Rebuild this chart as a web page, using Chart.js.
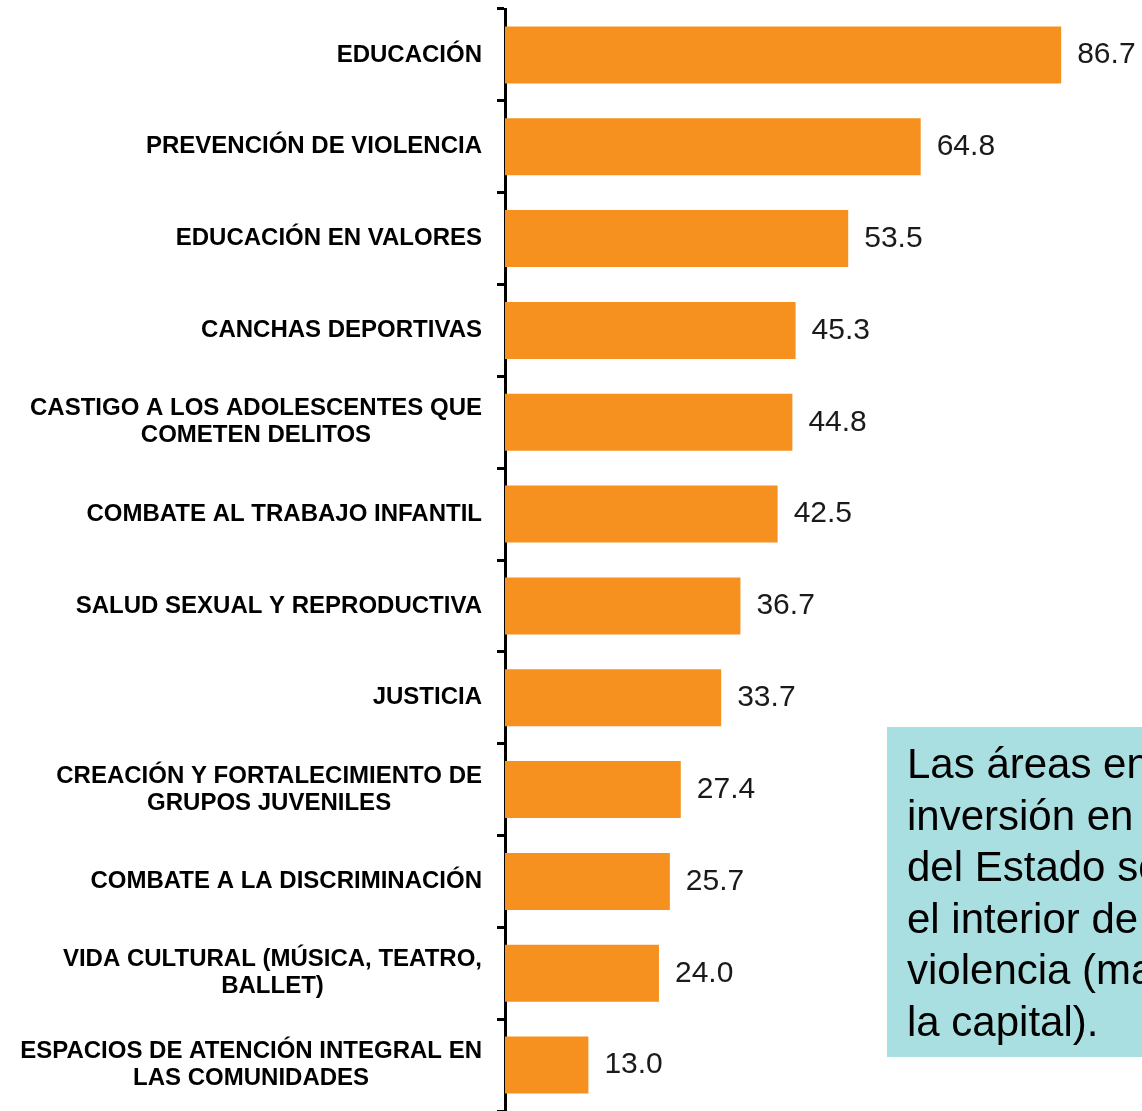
<!DOCTYPE html>
<html>
<head>
<meta charset="utf-8">
<script src="https://cdn.jsdelivr.net/npm/chart.js@4/dist/chart.umd.min.js"></script>
<style>
    html, body { margin: 0; padding: 0; background: #fff; overflow: hidden; }
    #wrap { position: absolute; left: 0; top: 0; width: 1142px; height: 1111px; }
    #note {
        position: absolute; left: 887px; top: 727px; width: 420px; height: 319px;
        background: #aadfe1; padding: 11px 0 0 20px;
        font-family: "Liberation Sans", Arial, sans-serif; font-size: 42px; line-height: 51.5px;
        color: #000; white-space: nowrap;
    }
</style>
</head>
<body>
<div id="wrap"><canvas id="barChart"></canvas></div>
<div id="note">Las áreas en las que se recomienda mayor<br>inversión en adolescencia por parte<br>del Estado son la educación en<br>el interior de las zonas de<br>violencia (mayormente en<br>la capital).</div>
<script>
    // Categories (each entry = lines of the label)
    var categories = [
        ["EDUCACIÓN"],
        ["PREVENCIÓN DE VIOLENCIA"],
        ["EDUCACIÓN EN VALORES"],
        ["CANCHAS DEPORTIVAS"],
        ["CASTIGO A LOS ADOLESCENTES QUE", "COMETEN DELITOS"],
        ["COMBATE AL TRABAJO INFANTIL"],
        ["SALUD SEXUAL Y REPRODUCTIVA"],
        ["JUSTICIA"],
        ["CREACIÓN Y FORTALECIMIENTO DE", "GRUPOS JUVENILES"],
        ["COMBATE A LA DISCRIMINACIÓN"],
        ["VIDA CULTURAL (MÚSICA, TEATRO,", "BALLET)"],
        ["ESPACIOS DE ATENCIÓN INTEGRAL EN", "LAS COMUNIDADES"]
    ];
    var values = [86.7, 64.8, 53.5, 45.3, 44.8, 42.5, 36.7, 33.7, 27.4, 25.7, 24.0, 13.0];

    var barColor = "#f6901e";

    // Labels on the left: right-aligned block, lines centered within it
    var categoryLabels = {
        id: "categoryLabels",
        afterDraw: function (chart) {
            var ctx = chart.ctx;
            var yScale = chart.scales.y;
            var lineH = 27;
            ctx.save();
            ctx.font = "bold 24px 'Liberation Sans', Arial, sans-serif";
            ctx.fillStyle = "#000";
            ctx.textBaseline = "middle";
            ctx.textAlign = "center";
            categories.forEach(function (lines, i) {
                var cy = yScale.getPixelForValue(i);
                var widest = Math.max.apply(null, lines.map(function (l) { return ctx.measureText(l).width; }));
                var cx = 482 - widest / 2;
                var y0 = cy - (lines.length - 1) * lineH / 2;
                lines.forEach(function (l, j) {
                    ctx.fillText(l, cx, y0 + j * lineH);
                });
            });
            ctx.restore();
        }
    };

    // Value labels to the right of each bar
    var valueLabels = {
        id: "valueLabels",
        afterDatasetsDraw: function (chart) {
            var ctx = chart.ctx;
            var meta = chart.getDatasetMeta(0);
            ctx.save();
            ctx.font = "30px 'Liberation Sans', Arial, sans-serif";
            ctx.fillStyle = "#1a1a1a";
            ctx.textBaseline = "middle";
            ctx.textAlign = "left";
            meta.data.forEach(function (bar, i) {
                ctx.fillText(values[i].toFixed(1), bar.x + 16, bar.y);
            });
            ctx.restore();
        }
    };

    var barCtx = document.getElementById("barChart").getContext("2d");
    var barChart = new Chart(barCtx, {
        type: "bar",
        data: {
            labels: categories,
            datasets: [{
                data: values,
                backgroundColor: barColor,
                borderWidth: 0,
                categoryPercentage: 1,
                barPercentage: 0.62
            }]
        },
        options: {
            indexAxis: "y",
            responsive: true,
            maintainAspectRatio: false,
            animation: false,
            layout: { padding: { top: 9, right: 0, bottom: 0, left: 0 } },
            plugins: {
                legend: { display: false },
                tooltip: { enabled: false }
            },
            scales: {
                x: {
                    display: false,
                    min: 0,
                    max: 99.3
                },
                y: {
                    ticks: { display: false },
                    grid: {
                        offset: true,
                        drawOnChartArea: false,
                        drawTicks: true,
                        tickLength: 8,
                        tickWidth: 3,
                        tickColor: "#000"
                    },
                    border: { display: true, color: "#000", width: 3 },
                    afterFit: function (scale) { scale.width = 505; }
                }
            }
        },
        plugins: [valueLabels, categoryLabels]
    });
</script>
</body>
</html>
